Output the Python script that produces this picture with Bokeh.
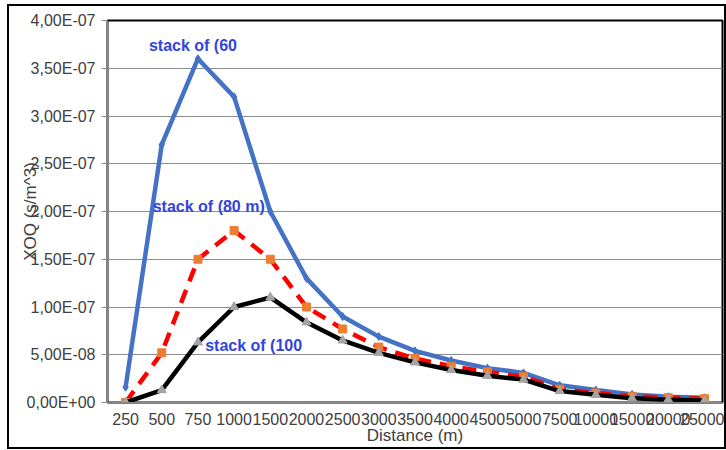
from bokeh.plotting import figure
from bokeh.models import FactorRange, Range1d, FixedTicker, Label
from bokeh.embed import file_html
from bokeh.resources import INLINE

distances = ["250", "500", "750", "1000", "1500", "2000", "2500", "3000", "3500",
             "4000", "4500", "5000", "7500", "10000", "15000", "20000", "25000"]
stack_60 = [1.6e-8, 2.7e-7, 3.6e-7, 3.2e-7, 2.0e-7, 1.3e-7, 9.0e-8, 6.9e-8, 5.4e-8,
            4.4e-8, 3.6e-8, 3.1e-8, 1.8e-8, 1.3e-8, 8.5e-9, 6.0e-9, 5.0e-9]
stack_80 = [0.0, 5.2e-8, 1.5e-7, 1.8e-7, 1.5e-7, 1.0e-7, 7.7e-8, 5.8e-8, 4.6e-8,
            3.8e-8, 3.2e-8, 2.7e-8, 1.4e-8, 1.0e-8, 6.5e-9, 5.0e-9, 4.0e-9]
stack_100 = [0.0, 1.3e-8, 6.3e-8, 1.0e-7, 1.1e-7, 8.4e-8, 6.5e-8, 5.2e-8, 4.2e-8,
             3.4e-8, 2.8e-8, 2.4e-8, 1.2e-8, 8.0e-9, 4.5e-9, 3.0e-9, 2.0e-9]
y_ticks = [0.0, 5e-8, 1e-7, 1.5e-7, 2e-7, 2.5e-7, 3e-7, 3.5e-7, 4e-7]
y_tick_labels = ["0,00E+00", "5,00E-08", "1,00E-07", "1,50E-07", "2,00E-07",
                 "2,50E-07", "3,00E-07", "3,50E-07", "4,00E-07"]
series_labels = ["stack of (60", "stack of (80 m)", "stack of (100"]
x_title = "Distance (m)"
y_title = "XOQ (s/m^3)"

FONT = "Liberation Sans"
TXT = "#404040"

p = figure(width=715, height=441, x_range=FactorRange(*distances),
           y_range=Range1d(0, 4e-7), output_backend="svg", toolbar_location=None,
           min_border_left=98, min_border_right=6, min_border_top=14, min_border_bottom=49)
p.margin = (4, 0, 0, 7)
p.styles = {"border": "2px solid black", "box-sizing": "content-box"}
p.x_range.range_padding = 0
p.background_fill_color = "white"
p.outline_line_color = "black"
p.outline_line_width = 2

p.xgrid.grid_line_color = None
p.ygrid.grid_line_color = "#8c8c8c"
p.ygrid.grid_line_width = 1

p.yaxis.ticker = FixedTicker(ticks=y_ticks)
p.yaxis.major_label_overrides = {t: l for t, l in zip(y_ticks, y_tick_labels)}
p.yaxis.minor_tick_line_color = None
p.yaxis.major_tick_out = 6
p.yaxis.major_tick_in = 0
for ax in (p.xaxis[0], p.yaxis[0]):
    ax.axis_line_color = "#8c8c8c"
    ax.major_tick_line_color = "#8c8c8c"
    ax.major_label_text_font = FONT
    ax.major_label_text_font_size = "16px"
    ax.major_label_text_color = TXT
    ax.axis_label_text_font = FONT
    ax.axis_label_text_font_size = "17px"
    ax.axis_label_text_font_style = "normal"
    ax.axis_label_text_color = TXT
p.xaxis.major_tick_line_color = None
p.xaxis.major_label_standoff = 4
p.yaxis.major_label_standoff = 6
p.xaxis.axis_label = x_title
p.xaxis.axis_label_standoff = -2
p.yaxis.axis_label = y_title
p.yaxis.axis_label_standoff = -16

p.line(distances, stack_60, line_color="#4472C4", line_width=4.5)
p.scatter(distances, stack_60, marker="diamond", size=8, color="#4472C4")
p.line(distances, stack_80, line_color="#FF0000", line_width=4.5, line_dash="14 9")
p.scatter(distances, stack_80, marker="square", size=8, color="#ED7D31")
p.line(distances, stack_100, line_color="black", line_width=4.5)
p.scatter(distances, stack_100, marker="triangle", size=9, color="#A5A5A5")

lab_kw = dict(text_font=FONT, text_font_size="16px", text_font_style="bold",
              text_color="#3344dd")
p.add_layout(Label(x=2.5, y=3.6e-7, text=series_labels[0], text_align="center",
                   text_baseline="bottom", x_offset=-5, y_offset=5, **lab_kw))
p.add_layout(Label(x=1.25, y=2.05e-7, text=series_labels[1], text_align="left",
                   text_baseline="middle", **lab_kw))
p.add_layout(Label(x=2.7, y=0.6e-7, text=series_labels[2], text_align="left",
                   text_baseline="middle", **lab_kw))

open("out.html", "w").write(file_html(p, INLINE))
